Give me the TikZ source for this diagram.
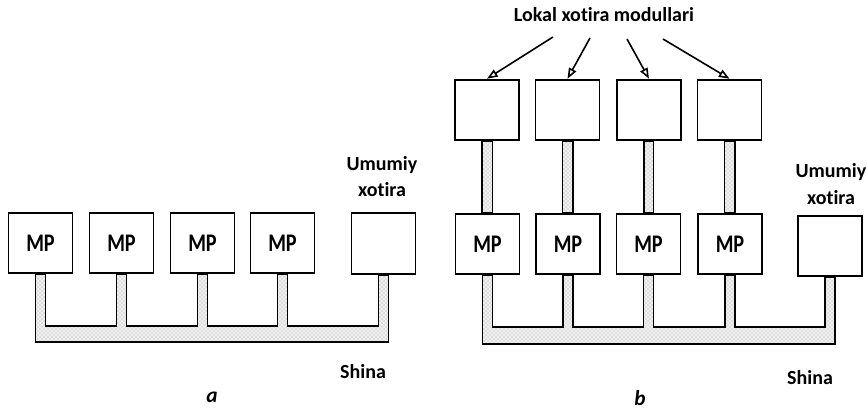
\documentclass[tikz,border=0pt]{standalone}
\usepackage{fontspec}
\setmainfont[Ligatures=NoCommon]{Carlito}
\usetikzlibrary{arrows.meta,calc,patterns,backgrounds}
\newcommand\MPtext{\scalebox{0.8}[1]{MP}}
\begin{document}
\begin{tikzpicture}[x=0.75pt,y=-0.75pt,
  box/.style={draw, line width=1.4pt, fill=white, minimum width=48pt, minimum height=45.5pt, inner sep=0pt, font=\bfseries\fontsize{19}{19}\selectfont},
  lbl/.style={font=\bfseries\fontsize{15}{20}\selectfont, align=center, inner sep=0pt},
  panelcap/.style={font=\bfseries\itshape\fontsize{16}{16}\selectfont, inner sep=0pt},
  stem/.style={draw, line width=1.3pt, preaction={fill=gray!12}, pattern=crosshatch dots, pattern color=gray!70},
  arr/.style={line width=1.2pt, -{Triangle[open,length=8pt,width=6pt]}}
]
\useasboundingbox (0,0) rectangle (867,409);

% panel a
\node[box] (a1) at (40.5,243) {\MPtext};
\node[box] (a2) at (121.5,243) {\MPtext};
\node[box] (a3) at (202.5,243) {\MPtext};
\node[box] (a4) at (282.5,243) {\MPtext};
\node[box] (a5) at (383.5,243.5) {};

% panel b
\node[box] (b1) at (487.5,244) {\MPtext};
\node[box] (b2) at (568,244) {\MPtext};
\node[box] (b3) at (648.5,244) {\MPtext};
\node[box] (b4) at (730,244) {\MPtext};
\node[box] (b5) at (830,246) {};
\node[box] (t1) at (487,110) {};
\node[box] (t2) at (567.5,110) {};
\node[box] (t3) at (649,110) {};
\node[box] (t4) at (729.5,110) {};

\foreach \n in {a1,a2,a3,a4,a5,b1,b2,b3,b4,b5} {
  \coordinate (\n-l) at ($(\n.south)+(-5,0)$);
  \coordinate (\n-r) at ($(\n.south)+(5,0)$);
}
\coordinate (abot) at (0,342);
\coordinate (atop) at (0,326);
\coordinate (bbot) at (0,344);
\coordinate (btop) at (0,327);

\begin{scope}[on background layer]
\path[stem] (a1-l) -- (a1-l |- abot) -- (a5-r |- abot) -- (a5-r) -- (a5-l) -- (a5-l |- atop)
  -- (a4-r |- atop) -- (a4-r) -- (a4-l) -- (a4-l |- atop)
  -- (a3-r |- atop) -- (a3-r) -- (a3-l) -- (a3-l |- atop)
  -- (a2-r |- atop) -- (a2-r) -- (a2-l) -- (a2-l |- atop)
  -- (a1-r |- atop) -- (a1-r) -- cycle;
\path[stem] (b1-l) -- (b1-l |- bbot) -- (b5-r |- bbot) -- (b5-r) -- (b5-l) -- (b5-l |- btop)
  -- (b4-r |- btop) -- (b4-r) -- (b4-l) -- (b4-l |- btop)
  -- (b3-r |- btop) -- (b3-r) -- (b3-l) -- (b3-l |- btop)
  -- (b2-r |- btop) -- (b2-r) -- (b2-l) -- (b2-l |- btop)
  -- (b1-r |- btop) -- (b1-r) -- cycle;
\foreach \i in {1,2,3,4} {
  \path[stem] ($(t\i.south)+(-5,0)$) rectangle ($(b\i.north)+(5,0)$);
}
\end{scope}

% labels
\node[lbl] (lok) at (604,15) {Lokal xotira modullari};
\coordinate (s1) at (553,37);
\coordinate (s2) at (590,38);
\coordinate (s3) at (627,39);
\coordinate (s4) at (663,39);
\draw[arr] (s1) -- (t1.north);
\draw[arr] (s2) -- (t2.north);
\draw[arr] (s3) -- (t3.north);
\draw[arr] (s4) -- (t4.north);

\node[lbl] (ua) at (382,176.5) {Umumiy\\xotira};
\node[lbl] (ub) at (831,184) {Umumiy\\xotira};
\node[lbl] (sa) at (363,372) {Shina};
\node[lbl] (sb) at (810,378) {Shina};
\node[panelcap] (la) at (212,397) {a};
\node[panelcap] (lb) at (640,398) {b};
\end{tikzpicture}
\end{document}
